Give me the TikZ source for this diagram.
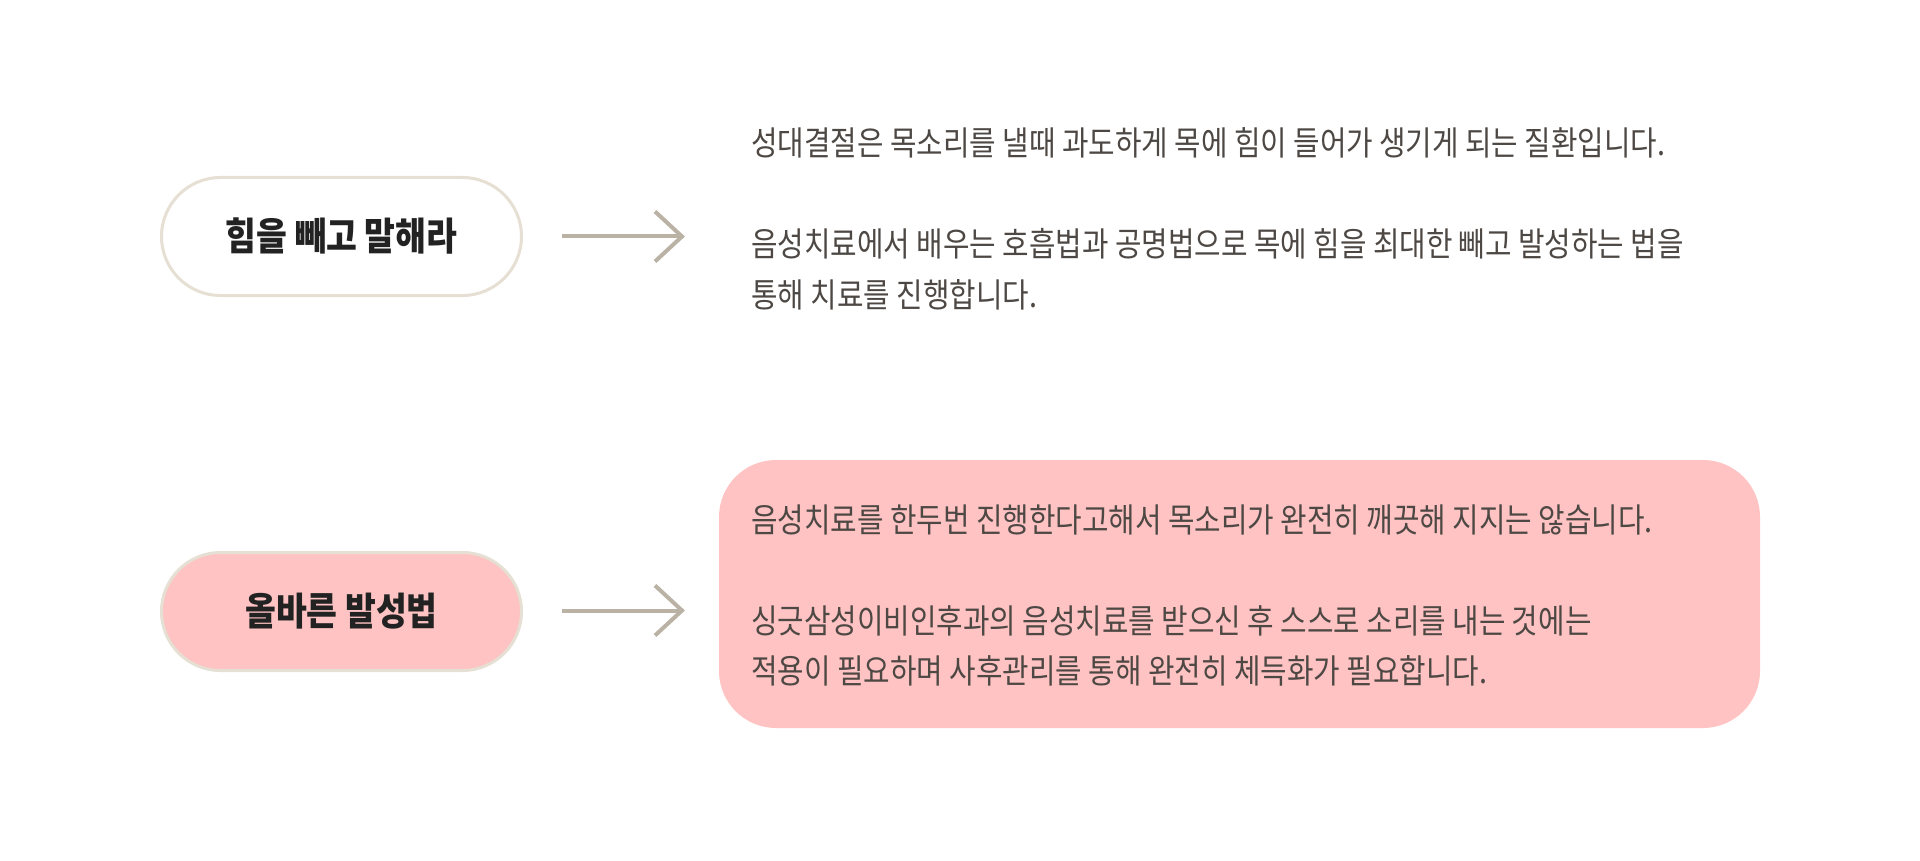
\documentclass[tikz,border=0pt]{standalone}
\usepackage{fontspec}
\newfontfamily\kr[FakeStretch=0.86]{Noto Sans CJK KR}
\newfontfamily\krlabel[FakeStretch=0.87]{Noto Sans CJK KR}
\definecolor{pinkfill}{RGB}{255,195,195}
\definecolor{pillborder}{RGB}{230,223,211}
\definecolor{arrowgray}{RGB}{186,178,165}
\definecolor{bodytext}{RGB}{77,72,68}
\definecolor{labeltext}{RGB}{34,34,34}
\tikzset{
  pill/.style={draw=pillborder, line width=3pt, rounded corners=59pt,
    minimum width=360pt, minimum height=118pt, inner sep=0pt,
    font=\krlabel\bfseries\fontsize{38.5}{44}\selectfont, text=labeltext},
  pinkbox/.style={fill=pinkfill, rounded corners=57pt, minimum width=1041pt,
    minimum height=268pt, inner sep=0pt},
  bodyline/.style={anchor=base west, inner sep=0pt, text=bodytext,
    font=\kr\fontsize{33.5}{40}\selectfont},
  arrowc/.style={draw=arrowgray, line width=4pt, line join=miter}
}
\begin{document}
\begin{tikzpicture}[x=1pt,y=-1pt]
\useasboundingbox (0,0) rectangle (1920,861);
% row 1
\node[pill, fill=white] (p1) at (341.5,236.5) {힘을 빼고 말해라};
\coordinate (a1s) at (562,236.5);
\coordinate (a1e) at (682,236.5);
\draw[arrowc] (a1s) -- (a1e);
\draw[arrowc] ([shift={(-27,-25)}]a1e) -- (a1e) -- ([shift={(-27,25)}]a1e);
\node[bodyline] (t1a) at (751,156) {성대결절은 목소리를 낼때 과도하게 목에 힘이 들어가 생기게 되는 질환입니다.};
\node[bodyline] (t1b) at (751,257) {음성치료에서 배우는 호흡법과 공명법으로 목에 힘을 최대한 빼고 발성하는 법을};
\node[bodyline] (t1c) at (751,307) {통해 치료를 진행합니다.};
% row 2
\node[pinkbox] (b2) at (1239.5,594) {};
\node[pill, fill=pinkfill] (p2) at (341.5,611.5) {올바른 발성법};
\coordinate (a2s) at (562,610.5);
\coordinate (a2e) at (682,610.5);
\draw[arrowc] (a2s) -- (a2e);
\draw[arrowc] ([shift={(-27,-25)}]a2e) -- (a2e) -- ([shift={(-27,25)}]a2e);
\node[bodyline] (t2a) at (751,532) {음성치료를 한두번 진행한다고해서 목소리가 완전히 깨끗해 지지는 않습니다.};
\node[bodyline] (t2b) at (751,633) {싱긋삼성이비인후과의 음성치료를 받으신 후 스스로 소리를 내는 것에는};
\node[bodyline] (t2c) at (751,683) {적용이 필요하며 사후관리를 통해 완전히 체득화가 필요합니다.};
\end{tikzpicture}
\end{document}
